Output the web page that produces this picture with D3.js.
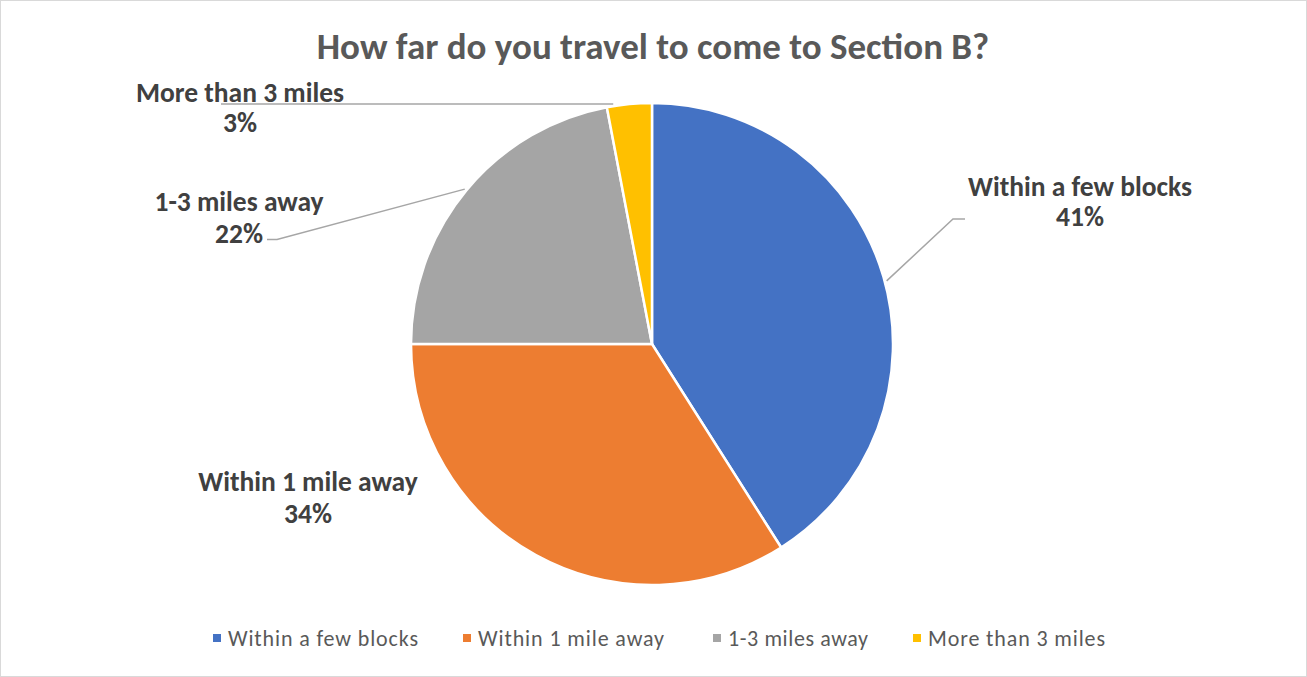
<!DOCTYPE html>
<html><head><meta charset="utf-8">
<script src="https://cdn.jsdelivr.net/npm/d3@7"></script>
<style>body{margin:0;background:#fff}svg{display:block}</style>
</head><body>
<script>
const categories = ["Within a few blocks","Within 1 mile away","1-3 miles away","More than 3 miles"];
const values = [41, 34, 22, 3];
const colors = ["#4472C4","#ED7D31","#A5A5A5","#FFC000"];
const title = "How far do you travel to come to Section B?";

const W = 1307, H = 677;
const font = "Carlito, Calibri, 'Open Sans', sans-serif";
const svg = d3.select("body").append("svg").attr("width", W).attr("height", H);
svg.append("rect").attr("x",0.5).attr("y",0.5).attr("width",W-1).attr("height",H-1)
  .attr("fill","#fff").attr("stroke","#d9d9d9");

svg.append("text").attr("x",653).attr("y",59).attr("text-anchor","middle")
  .attr("font-family",font).attr("font-weight","bold").attr("font-size",37)
  .attr("fill","#595959").text(title);

const cx = 652, cy = 344, r = 241;
const total = d3.sum(values);
const pie = d3.pie().sort(null).value(d => d)(values);
const arc = d3.arc().innerRadius(0).outerRadius(r);
const g = svg.append("g").attr("transform",`translate(${cx},${cy})`);
g.selectAll("path").data(pie).join("path").attr("d",arc)
  .attr("fill",(d,i)=>colors[i]).attr("stroke","#fff").attr("stroke-width",2.5);

// label layout: text centre, baselines, leader-line bend points, anchor angle offset
const labels = [
  {x:1080, y1:196, y2:226, line:[[965,219],[953,219]], off:0.02},
  {x:308, y1:491, y2:523, line:null},
  {x:239, y1:211, y2:243, line:[[267,239.5],[277,239.5]], off:0.0},
  {x:240, y1:102, y2:132, line:[[221,104]], off:-0.066}
];
const lineGen = d3.line();
pie.forEach((d,i)=>{
  const L = labels[i];
  const t = svg.append("text").attr("text-anchor","middle").attr("font-family",font)
    .attr("font-weight","bold").attr("font-size",27.5).attr("fill","#404040");
  t.append("tspan").attr("x",L.x).attr("y",L.y1).text(categories[i]);
  t.append("tspan").attr("x",L.x).attr("y",L.y2).text(Math.round(values[i]/total*100)+"%");
  if (L.line) {
    const a = (d.startAngle + d.endAngle)/2 + L.off;
    const rr = r + 2;
    let end = [cx + rr*Math.sin(a), cy - rr*Math.cos(a)];
    if (i===3) end = [end[0], L.line[0][1]];
    const pts = L.line.concat([end]);
    svg.append("path").attr("d",lineGen(pts)).attr("fill","none")
      .attr("stroke","#a6a6a6").attr("stroke-width",1.5);
  }
});

// legend
const legX = [228, 478, 728, 928];
const legW = [190, 186, 140, 177];
const lg = svg.append("g");
categories.forEach((c,i)=>{
  lg.append("rect").attr("x",legX[i]-15).attr("y",634).attr("width",8).attr("height",8).attr("fill",colors[i]);
  lg.append("text").attr("x",legX[i]).attr("y",646).attr("font-family",font)
    .attr("font-size",22).attr("fill","#595959")
    .attr("textLength",legW[i]).attr("lengthAdjust","spacing").text(c);
});
</script>
</body></html>
